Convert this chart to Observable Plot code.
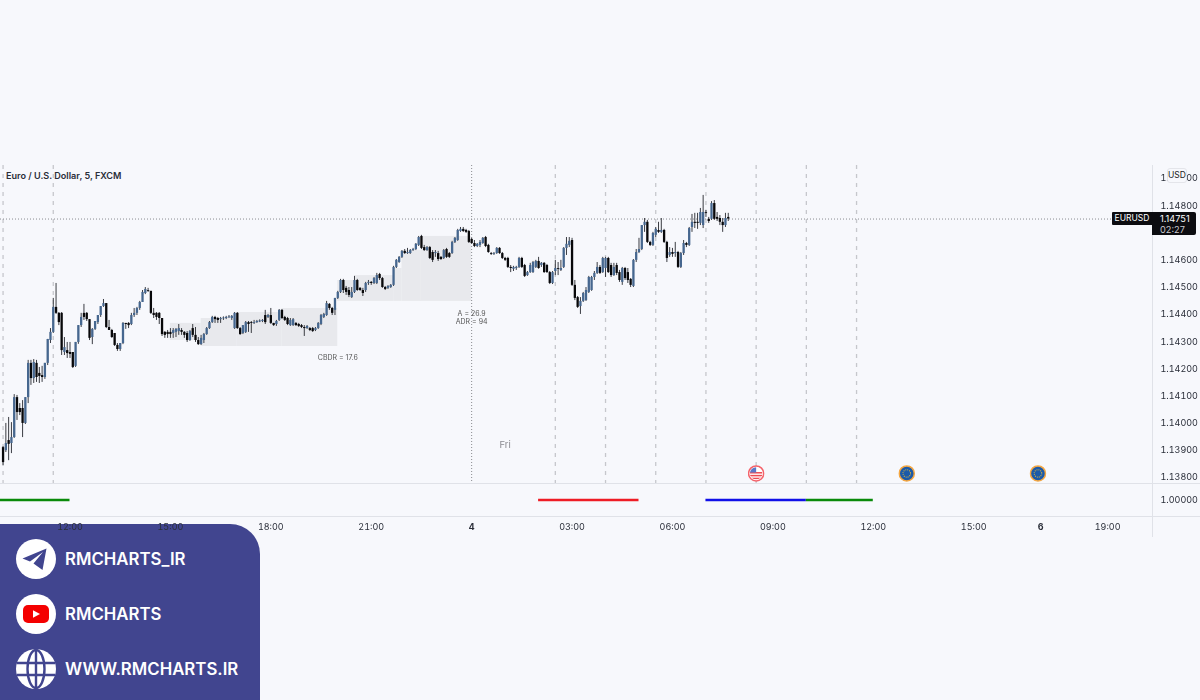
<!DOCTYPE html>
<html><head><meta charset="utf-8">
<script src="https://cdn.jsdelivr.net/npm/d3@7"></script>
<script src="https://cdn.jsdelivr.net/npm/@observablehq/plot@0.6"></script>
<style>
html,body{margin:0;padding:0;width:1200px;height:700px;overflow:hidden;background:#f7f8fc;font-family:Inter,"Noto Sans",sans-serif}
#root{position:relative;width:1200px;height:700px}
#root>*{position:absolute}
#main{left:0;top:165px;z-index:2}
#lower{left:0;top:483px;z-index:2}
#main svg,#lower svg{display:block;background:transparent;filter:blur(0.3px)}
#panel{left:0;top:524px;width:260px;height:176px;background:#41458f;border-top-right-radius:30px;z-index:1}
.brand{color:#fff;font:600 16.8px Inter,sans-serif;left:65px;z-index:3;line-height:20px;white-space:nowrap}
.ic{left:16px;width:40px;height:40px;z-index:3}
.sym{left:1112px;top:212px;width:40px;height:13px;background:#0c0c10;color:#fff;font:8.5px/13px Inter,sans-serif;text-align:center;z-index:4;border-radius:1px 0 0 1px}
.last{left:1152px;top:212px;width:44px;height:23px;background:#0c0c10;color:#fff;font:9.2px/11px Inter,sans-serif;z-index:4;border-radius:0 2px 2px 0}
.last div{padding-left:8px}
.usd{left:1167px;top:168px;width:18px;height:13px;background:#f7f8fc;border:1px solid #e4e5ea;border-radius:3px;font:8.5px/13px Inter,sans-serif;color:#222;text-align:center;z-index:4}
.title{left:6px;top:170px;font:600 9.1px/12px Inter,sans-serif;color:#2a2e39;z-index:4;white-space:nowrap}
</style></head><body><div id="root">
<div id="panel"></div>
<div id="main"></div>
<div id="lower"></div>
<div class="title">Euro / U.S. Dollar, 5, FXCM</div>
<div class="usd">USD</div>
<div class="sym">EURUSD</div>
<div class="last"><div style="padding-top:1px">1.14751</div><div style="color:#c9c9cf">02:27</div></div>
<svg class="ic" style="top:539px" viewBox="0 0 40 40"><circle cx="20" cy="20" r="20" fill="#fff"/><path d="M30.5 9.5 6.5 19.5 14 22.5 27 13 17.5 24.5 26.5 31Z" fill="#41458f"/></svg>
<svg class="ic" style="top:594px" viewBox="0 0 40 40"><circle cx="20" cy="20" r="20" fill="#fff"/><rect x="7" y="11" width="26" height="18" rx="5" fill="#f40000"/><path d="M17 16.2 24 20 17 23.8Z" fill="#fff"/></svg>
<svg class="ic" style="top:649px" viewBox="0 0 40 40"><circle cx="20" cy="20" r="20" fill="#fff"/><g fill="none" stroke="#41458f" stroke-width="2.4"><ellipse cx="20" cy="20" rx="8.5" ry="19"/><path d="M20 0V40M1 14H39M1 26H39"/></g></svg>
<div class="brand" style="top:549px">RMCHARTS_IR</div>
<div class="brand" style="top:604px">RMCHARTS</div>
<div class="brand" style="top:659px">WWW.RMCHARTS.IR</div>
</div>
<script>
// Prices are stored in 0.00001 units above 1.13000; one row per 10 five-minute bars.
const firstBarHour = -2; // hours relative to Thursday 12:00
const opens = [
910,899,936,925,947,1094,1054,1054,999,1094,
1220,1164,1220,1183,1175,1168,1220,1304,1334,1426,
1404,1404,1260,1267,1260,1260,1209,1297,1359,1404,
1404,1381,1315,1345,1370,1396,1429,1440,1352,1341,
1330,1286,1271,1293,1367,1367,1363,1396,1404,1422,
1444,1477,1488,1485,1404,1404,1404,1385,1334,1334,
1334,1330,1334,1337,1341,1334,1330,1304,1348,1323,
1304,1289,1304,1326,1348,1370,1389,1385,1381,1384,
1385,1388,1385,1348,1404,1348,1330,1334,1370,1370,
1367,1370,1372,1374,1396,1389,1396,1367,1363,1378,
1415,1389,1385,1359,1359,1367,1363,1359,1352,1348,
1348,1348,1341,1348,1363,1389,1396,1437,1422,1415,
1459,1481,1525,1496,1488,1462,1481,1525,1496,1488,
1488,1514,1518,1514,1514,1547,1532,1499,1496,1499,
1507,1573,1591,1610,1632,1624,1624,1635,1639,1654,
1687,1646,1635,1646,1628,1624,1624,1610,1606,1639,
1624,1624,1665,1672,1705,1713,1709,1705,1676,1661,
1650,1654,1661,1683,1654,1624,1621,1624,1643,1624,
1606,1606,1573,1566,1569,1573,1606,1580,1543,1554,
1554,1573,1595,1580,1588,1580,1554,1514,1558,1569,
1562,1573,1643,1654,1672,1507,1462,1429,1448,1451,
1481,1488,1536,1551,1573,1554,1569,1606,1580,1543,
1580,1554,1518,1569,1554,1529,1503,1599,1628,1639,
1727,1739,1665,1654,1691,1709,1702,1709,1665,1617,
1628,1624,1628,1573,1624,1661,1654,1720,1739,1739,
1735,1727,1775,1750,1750,1808,1757,1753,1739,1727,
1757];
const highs = [
914,999,1021,1002,1105,1102,1072,1083,1094,1231,
1231,1234,1231,1205,1209,1220,1308,1348,1459,1514,
1407,1407,1315,1297,1297,1260,1297,1359,1404,1437,
1407,1381,1348,1374,1396,1429,1455,1440,1378,1345,
1330,1293,1293,1370,1367,1370,1404,1422,1426,1448,
1488,1499,1496,1485,1422,1407,1407,1385,1337,1341,
1348,1348,1348,1363,1348,1337,1337,1341,1363,1352,
1315,1323,1330,1352,1374,1393,1393,1389,1389,1391,
1393,1396,1396,1407,1407,1352,1359,1374,1374,1374,
1378,1378,1380,1381,1415,1400,1422,1367,1378,1418,
1418,1393,1389,1385,1385,1370,1367,1363,1359,1359,
1352,1352,1352,1370,1400,1404,1448,1440,1426,1459,
1485,1529,1529,1503,1499,1499,1540,1529,1499,1496,
1518,1525,1521,1536,1551,1551,1536,1503,1506,1510,
1577,1602,1613,1635,1639,1643,1639,1643,1661,1687,
1691,1654,1650,1650,1635,1635,1632,1613,1639,1643,
1628,1669,1683,1713,1720,1720,1713,1709,1680,1672,
1661,1672,1683,1687,1658,1628,1628,1646,1646,1628,
1610,1610,1580,1577,1577,1610,1610,1584,1558,1588,
1595,1599,1610,1591,1591,1584,1558,1558,1599,1591,
1599,1646,1683,1683,1680,1525,1466,1462,1481,1499,
1540,1540,1558,1591,1580,1610,1610,1610,1588,1588,
1588,1562,1573,1573,1569,1532,1602,1639,1680,1727,
1753,1746,1669,1702,1720,1739,1753,1713,1669,1646,
1643,1665,1632,1628,1672,1665,1720,1768,1772,1772,
1790,1838,1783,1757,1815,1819,1775,1764,1753,1772,
1772];
const lows = [
844,892,862,888,944,1010,1028,947,995,1072,
1139,1146,1150,1146,1150,1161,1212,1293,1330,1400,
1359,1249,1249,1238,1238,1201,1205,1290,1352,1378,
1374,1304,1289,1341,1363,1389,1426,1348,1341,1312,
1282,1264,1264,1289,1345,1348,1359,1389,1396,1415,
1444,1473,1481,1400,1385,1378,1363,1319,1312,1312,
1312,1312,1315,1323,1323,1312,1297,1301,1315,1297,
1286,1286,1293,1323,1345,1367,1367,1367,1367,1378,
1381,1385,1378,1345,1345,1323,1326,1330,1334,1330,
1363,1367,1370,1370,1363,1385,1363,1356,1356,1374,
1381,1374,1359,1356,1356,1356,1352,1348,1319,1345,
1337,1334,1337,1345,1359,1385,1393,1415,1396,1396,
1455,1477,1477,1470,1462,1459,1477,1485,1485,1466,
1481,1507,1507,1510,1510,1525,1496,1488,1492,1496,
1503,1569,1588,1606,1621,1621,1621,1632,1635,1650,
1639,1632,1632,1602,1591,1610,1595,1599,1602,1606,
1606,1621,1661,1669,1702,1702,1698,1661,1658,1646,
1646,1646,1658,1646,1625,1617,1617,1621,1621,1602,
1595,1569,1554,1558,1562,1569,1569,1536,1540,1551,
1551,1569,1566,1573,1551,1551,1510,1510,1543,1543,
1558,1569,1617,1646,1503,1451,1422,1400,1444,1448,
1477,1485,1525,1547,1547,1551,1536,1551,1536,1540,
1543,1518,1507,1525,1514,1499,1499,1591,1624,1635,
1702,1661,1650,1650,1683,1698,1698,1661,1591,1610,
1610,1610,1569,1569,1617,1646,1650,1702,1716,1713,
1727,1716,1757,1735,1746,1746,1742,1727,1702,1720,
1742];
const closes = [
855,925,922,947,1094,1039,1039,999,1094,1220,
1164,1223,1168,1172,1168,1220,1308,1334,1426,1404,
1370,1267,1278,1256,1253,1205,1297,1359,1389,1389,
1381,1312,1345,1374,1396,1429,1440,1352,1341,1315,
1286,1271,1293,1367,1363,1359,1396,1404,1422,1444,
1481,1492,1485,1404,1396,1389,1385,1326,1323,1326,
1326,1341,1345,1348,1334,1323,1304,1337,1323,1304,
1289,1312,1326,1348,1370,1389,1381,1378,1385,1387,
1389,1391,1393,1404,1348,1326,1359,1370,1363,1367,
1370,1374,1376,1378,1370,1396,1367,1359,1374,1415,
1385,1378,1363,1378,1381,1359,1356,1352,1348,1356,
1341,1337,1348,1367,1396,1400,1440,1422,1404,1459,
1481,1525,1488,1481,1470,1481,1525,1488,1488,1477,
1514,1518,1514,1532,1543,1532,1499,1492,1503,1507,
1573,1599,1610,1632,1624,1628,1635,1639,1658,1683,
1643,1635,1646,1606,1599,1628,1602,1602,1635,1610,
1610,1665,1680,1709,1713,1705,1702,1665,1661,1650,
1658,1665,1680,1650,1628,1621,1624,1643,1624,1606,
1599,1573,1569,1573,1573,1606,1573,1540,1554,1580,
1591,1595,1569,1588,1554,1554,1514,1554,1569,1566,
1569,1643,1658,1669,1507,1459,1426,1448,1477,1488,
1536,1536,1551,1573,1551,1606,1606,1554,1543,1573,
1551,1525,1569,1532,1525,1507,1599,1628,1639,1727,
1739,1665,1654,1698,1713,1702,1709,1665,1606,1628,
1621,1628,1573,1624,1661,1654,1716,1739,1735,1735,
1775,1775,1772,1742,1808,1750,1750,1739,1727,1753,
1751];

const xDomain = [-2.0765, 32.342];
const priceDomain = [1.13778, 1.14948];
const priceTicks = [1.138,1.139,1.140,1.141,1.142,1.143,1.144,1.145,1.146,1.148,1.149];
const lastPrice = 1.14751;

const dayTickHours = [12,29];
const timeLabels = {0:"12:00",3:"15:00",6:"18:00",9:"21:00",12:"4",15:"03:00",18:"06:00",21:"09:00",24:"12:00",27:"15:00",29:"6",31:"19:00"};
const regularTicks = [0,3,6,9,15,18,21,24,27,31];

const dashedHours = [-2,-0.5,14.5,16,17.5,19,20.5,22,23.5];
const crosshairHour = 12;

// Stepped range boxes: start hour, end hour, top price, bottom price
const boxStart  = [3,   3.92,5,   6.33, 8,   8.5,  9.67, 9.92, 10.5];
const boxEnd    = [3.92,5,   6.33,8,    8.5, 9.67, 9.92, 10.5, 12];
const boxTop    = [1.14367,1.14385,1.14407,1.14422,1.14525,1.14543,1.14569,1.14635,1.14687];
const boxBottom = [1.14304,1.14282,1.14282,1.14282,1.14448,1.14448,1.14448,1.14448,1.14448];

// Session segments in the lower pane
const segStart = [-2.0765,14,19,22];
const segEnd   = [0,17,22,24];
const segColor = ["#0a8a0a","#ee1c25","#1010e8","#0a8a0a"];

const noteText  = ["CBDR = 17.6","A = 26.9","ADR = 94","Fri"];
const noteHour  = [8,12,12,13];
const notePrice = [1.14239,1.14402,1.14372,1.13921];
const noteColor = ["#555","#555","#555","#8a8a90"];
const noteSize  = [7,7,7,9.5];

const svgUri = s => "data:image/svg+xml," + encodeURIComponent(s);
const flagUS = svgUri(`<svg xmlns="http://www.w3.org/2000/svg" viewBox="0 0 18 18"><defs><clipPath id="c"><circle cx="9" cy="9" r="6.6"/></clipPath></defs><circle cx="9" cy="9" r="8" fill="#fff" stroke="#f4636b" stroke-width="1.6"/><g clip-path="url(#c)"><rect width="18" height="18" fill="#fff"/><rect x="2" y="7.5" width="14" height="1.6" fill="#ee4a52"/><rect x="2" y="10.5" width="14" height="1.6" fill="#ee4a52"/><rect x="2" y="13.5" width="14" height="1.6" fill="#ee4a52"/><rect x="2" y="2" width="7" height="6" fill="#5b78c8"/></g></svg>`);
const flagEU = svgUri(`<svg xmlns="http://www.w3.org/2000/svg" viewBox="0 0 18 18"><circle cx="9" cy="9" r="8" fill="#1c5aa8" stroke="#f5a742" stroke-width="1.6"/><circle cx="9" cy="9" r="4" fill="none" stroke="#d9b23c" stroke-width="1.1" stroke-dasharray="1 1.1"/></svg>`);
const eventHour  = [20.5,25,28.92];
const eventPrice = [1.13815,1.13815,1.13815];
const eventFlag  = [flagUS,flagEU,flagEU];

const price = v => 1.13 + v/100000;
const candles = opens.map((o,k)=>({hour:firstBarHour+k/12,open:price(o),high:price(highs[k]),low:price(lows[k]),close:price(closes[k]),up:closes[k]>=o}));
const boxes = boxStart.map((s,k)=>({s,e:boxEnd[k],t:boxTop[k],b:boxBottom[k]}));
const segs = segStart.map((s,k)=>({s,e:segEnd[k],c:segColor[k],v:1}));
const notes = noteText.map((t,k)=>({t,h:noteHour[k],p:notePrice[k],c:noteColor[k],fs:noteSize[k]}));
const events = eventHour.map((h,k)=>({h,p:eventPrice[k],src:eventFlag[k]}));
const font = "Inter, 'Noto Sans', sans-serif";
const paneLine = "#e0e2e8";

const main = Plot.plot({
  width:1200,height:318,marginLeft:0,marginRight:48,marginTop:0,marginBottom:0,
  style:{background:"transparent",fontFamily:font},
  x:{domain:xDomain,axis:null},
  y:{domain:priceDomain,axis:null},
  marks:[
    Plot.rect(boxes,{x1:"s",x2:"e",y1:"b",y2:"t",fill:"#e8e9ed"}),
    Plot.ruleX(dashedHours,{stroke:"#c6c7cc",strokeWidth:1.3,strokeDasharray:"4 5"}),
    Plot.ruleX([crosshairHour],{stroke:"#8a8b90",strokeWidth:1,strokeDasharray:"1 2"}),
    Plot.ruleY([lastPrice],{stroke:"#8a8b90",strokeWidth:1,strokeDasharray:"1 2"}),
    Plot.ruleX([xDomain[1]],{stroke:paneLine}),
    Plot.ruleX(candles,{x:"hour",y1:"low",y2:"high",stroke:"#3a3c42",strokeWidth:1}),
    Plot.ruleX(candles,{x:"hour",y1:"open",y2:"close",strokeWidth:2.3,stroke:d=>d.up?"#46678f":"#08080a"}),
    Plot.text(notes,{x:"h",y:"p",text:"t",fill:"c",fontSize:"fs"}),
    Plot.image(events,{x:"h",y:"p",src:"src",width:17,height:17}),
    Plot.axisY({anchor:"right",label:null,ticks:priceTicks,tickSize:0,tickPadding:8,tickFormat:d=>d.toFixed(5),fontSize:9,fill:"#2a2e39",textAnchor:"start"})
  ]
});
document.getElementById("main").appendChild(main);

const lower = Plot.plot({
  width:1200,height:54,marginLeft:0,marginRight:48,marginTop:0,marginBottom:21,
  style:{background:"transparent",fontFamily:font},
  x:{domain:xDomain,axis:null},
  y:{domain:[0.9,1.1],axis:null},
  marks:[
    Plot.ruleY([1.1,0.9],{stroke:paneLine,insetRight:-48}),
    Plot.ruleX([xDomain[1]],{stroke:paneLine,insetBottom:-21}),
    Plot.ruleY(segs,{x1:"s",x2:"e",y:"v",stroke:"c",strokeWidth:2.4}),
    Plot.axisY({anchor:"right",label:null,ticks:[1],tickSize:0,tickPadding:8,tickFormat:d=>d.toFixed(5),fontSize:9,fill:"#2a2e39",textAnchor:"start"}),
    Plot.axisX({label:null,ticks:regularTicks,tickSize:0,tickPadding:7,tickFormat:d=>timeLabels[d],fontSize:9,fill:"#2a2e39"}),
    Plot.axisX({label:null,ticks:dayTickHours,tickSize:0,tickPadding:7,tickFormat:d=>timeLabels[d],fontSize:9,fontWeight:"bold",fill:"#2a2e39"})
  ]
});
document.getElementById("lower").appendChild(lower);
</script></body></html>
